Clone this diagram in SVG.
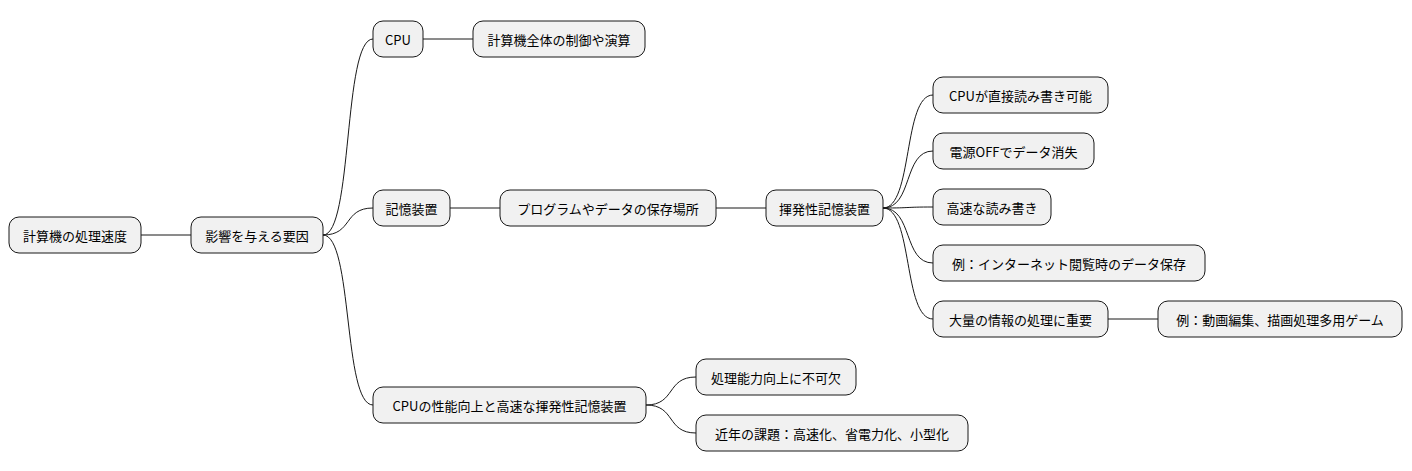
<svg xmlns="http://www.w3.org/2000/svg" width="1412" height="471" viewBox="0 0 1412 471">
<style>
rect{fill:#f1f1f1;stroke:#181818;stroke-width:1}
text{font-family:"Noto Sans CJK JP","Noto Sans",sans-serif;font-size:13px;fill:#000;text-anchor:middle;dominant-baseline:central}
#edges path{fill:none;stroke:#181818;stroke-width:1}
</style>
<rect x="0" y="0" width="1412" height="471" style="fill:#fff;stroke:none"/>
<g id="edges">
<path d="M141,235 L191,235"/>
<path d="M323,235 C353,235 343,39 373,39"/>
<path d="M323,235 C353,235 343,208 373,208"/>
<path d="M323,235 C353,235 343,405 373,405"/>
<path d="M423,39 L473,39"/>
<path d="M450,208 L500,208"/>
<path d="M716,208 L766,208"/>
<path d="M883,208 C913,208 903,95 933,95"/>
<path d="M883,208 C913,208 903,151 933,151"/>
<path d="M883,208 C913,208 903,207 933,207"/>
<path d="M883,208 C913,208 903,263 933,263"/>
<path d="M883,208 C913,208 903,319 933,319"/>
<path d="M1108,319 L1158,319"/>
<path d="M646,405 C676,405 666,377 696,377"/>
<path d="M646,405 C676,405 666,433 696,433"/>
</g>
<g id="n1"><rect x="9" y="217" width="132" height="36" rx="10"/><text x="75" y="235">計算機の処理速度</text></g>
<g id="n2"><rect x="191" y="217" width="132" height="36" rx="10"/><text x="257" y="235">影響を与える要因</text></g>
<g id="n3"><rect x="373" y="21" width="50" height="36" rx="10"/><text x="398" y="39">CPU</text></g>
<g id="n4"><rect x="473" y="21" width="172" height="36" rx="10"/><text x="559" y="39">計算機全体の制御や演算</text></g>
<g id="n5"><rect x="373" y="190" width="77" height="36" rx="10"/><text x="411.5" y="208">記憶装置</text></g>
<g id="n6"><rect x="500" y="190" width="216" height="36" rx="10"/><text x="608" y="208">プログラムやデータの保存場所</text></g>
<g id="n7"><rect x="766" y="190" width="117" height="36" rx="10"/><text x="824.5" y="208">揮発性記憶装置</text></g>
<g id="n8"><rect x="933" y="77" width="175" height="36" rx="10"/><text x="1020.5" y="95">CPUが直接読み書き可能</text></g>
<g id="n9"><rect x="933" y="133" width="161" height="36" rx="10"/><text x="1013.5" y="151">電源OFFでデータ消失</text></g>
<g id="n10"><rect x="933" y="189" width="118" height="36" rx="10"/><text x="992" y="207">高速な読み書き</text></g>
<g id="n11"><rect x="933" y="245" width="272" height="36" rx="10"/><text x="1069" y="263">例：インターネット閲覧時のデータ保存</text></g>
<g id="n12"><rect x="933" y="301" width="175" height="36" rx="10"/><text x="1020.5" y="319">大量の情報の処理に重要</text></g>
<g id="n13"><rect x="1158" y="301" width="244" height="36" rx="10"/><text x="1280" y="319">例：動画編集、描画処理多用ゲーム</text></g>
<g id="n14"><rect x="373" y="387" width="273" height="36" rx="10"/><text x="509.5" y="405">CPUの性能向上と高速な揮発性記憶装置</text></g>
<g id="n15"><rect x="696" y="359" width="160" height="36" rx="10"/><text x="776" y="377">処理能力向上に不可欠</text></g>
<g id="n16"><rect x="696" y="415" width="272" height="36" rx="10"/><text x="832" y="433">近年の課題：高速化、省電力化、小型化</text></g>
</svg>
